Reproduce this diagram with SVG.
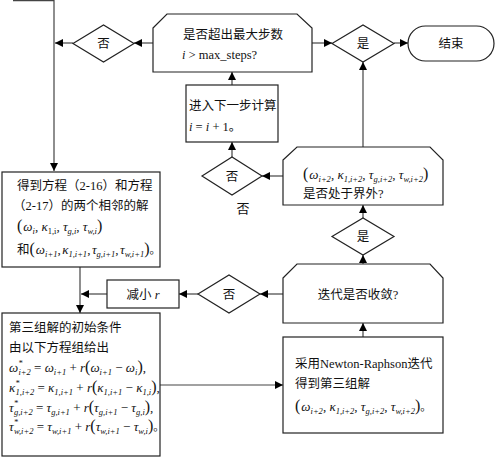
<svg xmlns="http://www.w3.org/2000/svg" width="497" height="457" viewBox="0 0 497 457">
<defs>
<marker id="ah" markerWidth="8" markerHeight="8" refX="8" refY="4" orient="auto" markerUnits="userSpaceOnUse">
<path d="M0,0 L8,4 L0,8 Z" fill="#000"/>
</marker>
<style>
.sh{fill:#fff;stroke:#222;stroke-width:1.2}
.cn{fill:none;stroke:#444;stroke-width:1.2;marker-end:url(#ah)}
.t{font-family:"Liberation Serif","Noto Sans CJK SC",serif;font-size:12.5px;fill:#111}
.c{text-anchor:middle}
.m{font-family:"Liberation Serif","Noto Sans CJK SC",serif;font-size:13px;font-style:italic;fill:#111}
.s{font-size:8.5px}
.u{font-style:normal}
.p{font-style:normal;font-size:16px}
</style>
</defs>
<rect width="497" height="457" fill="#fff"/>

<g id="connectors">
<path class="cn" d="M13,0.6 H54 V171"/>
<path class="cn" d="M153,43 H134"/>
<path class="cn" d="M73,43 H55"/>
<path class="cn" d="M312,43 H332"/>
<path class="cn" d="M394,43 H408"/>
<path class="cn" d="M363,147 V62"/>
<path class="cn" d="M232,85 V72"/>
<path class="cn" d="M232,157 V142"/>
<path class="cn" d="M283,176 H262"/>
<path class="cn" d="M363,218 V205"/>
<path class="cn" d="M363,264 V255"/>
<path class="cn" d="M363,337 V323"/>
<path class="cn" d="M283,294 H260"/>
<path class="cn" d="M198,294 H179"/>
<path class="cn" d="M107,294 H81"/>
<path class="cn" d="M80,267 V313"/>
<path class="cn" d="M160,385 H283"/>
</g>

<g id="n_maxsteps">
<polygon class="sh" points="153,28 167,14 297,14 312,28 312,72 153,72"/>
<text class="t" x="183" y="38.5">是否超出最大步数</text>
<text class="t" x="182" y="59"><tspan font-style="italic">i</tspan> &gt; max_steps?</text>
</g>

<g id="n_no1">
<polygon class="sh" points="73,43.5 103.5,25 134,43.5 103.5,62"/>
<text class="t c" x="103.5" y="48">否</text>
</g>

<g id="n_yes1">
<polygon class="sh" points="332,43.5 363,25 394,43.5 363,62"/>
<text class="t c" x="363" y="48">是</text>
</g>

<g id="n_end">
<rect class="sh" x="408" y="26" width="86" height="35" rx="17.5" ry="17.5"/>
<text class="t c" x="451" y="48">结束</text>
</g>

<g id="n_next">
<rect class="sh" x="186" y="85" width="92" height="57"/>
<text class="t" x="189" y="110">进入下一步计算</text>
<text class="t" x="189" y="131"><tspan font-style="italic">i</tspan> = <tspan font-style="italic">i</tspan> + 1。</text>
</g>

<g id="n_no2">
<polygon class="sh" points="202,176 232,157 262,176 232,195"/>
<text class="t c" x="232" y="181">否</text>
</g>
<text class="t c" x="243" y="213" style="font-size:13px">否</text>

<g id="n_outside">
<polygon class="sh" points="283,160 297,147 430,147 443,160 443,205 283,205"/>
<text class="m" x="303" y="179"><tspan class="p">(</tspan><tspan dx="1">ω</tspan><tspan class="s" dy="3">i+2</tspan><tspan class="u" dy="-3">, </tspan><tspan>κ</tspan><tspan class="s" dy="3">1,i+2</tspan><tspan class="u" dy="-3">, </tspan><tspan>τ</tspan><tspan class="s" dy="3">g,i+2</tspan><tspan class="u" dy="-3">, </tspan><tspan>τ</tspan><tspan class="s" dy="3">w,i+2</tspan><tspan class="p" dy="-3">)</tspan></text>
<text class="t" x="303" y="198">是否处于界外?</text>
</g>

<g id="n_yes2">
<polygon class="sh" points="332,236.5 363,218 394,236.5 363,255"/>
<text class="t c" x="363" y="241">是</text>
</g>

<g id="n_converge">
<polygon class="sh" points="283,278 297,264 430,264 443,278 443,323 283,323"/>
<text class="t c" x="358" y="299">迭代是否收敛?</text>
</g>

<g id="n_no3">
<polygon class="sh" points="198,294 229,275 260,294 229,313"/>
<text class="t c" x="229" y="299">否</text>
</g>

<g id="n_reduce">
<rect class="sh" x="107" y="280" width="72" height="28"/>
<text class="t c" x="143" y="299">减小 <tspan font-style="italic">r</tspan></text>
</g>

<g id="n_solutions">
<rect class="sh" x="2" y="172" width="158" height="95"/>
<text class="t" x="17" y="190">得到方程（2-16）和方程</text>
<text class="t" x="13" y="210">（2-17）的两个相邻的解</text>
<text class="m" x="17" y="231"><tspan class="p">(</tspan><tspan dx="1">ω</tspan><tspan class="s" dy="3">i</tspan><tspan class="u" dy="-3">, </tspan><tspan>κ</tspan><tspan class="s u" dy="3">1,i</tspan><tspan class="u" dy="-3">, </tspan><tspan>τ</tspan><tspan class="s" dy="3">g,i</tspan><tspan class="u" dy="-3">, </tspan><tspan>τ</tspan><tspan class="s" dy="3">w,i</tspan><tspan class="p" dy="-3">)</tspan></text>
<text class="m" x="17" y="254"><tspan class="u" style="font-size:12.5px">和</tspan><tspan class="p">(</tspan><tspan dx="1">ω</tspan><tspan class="s" dy="3">i+1</tspan><tspan class="u" dy="-3">,</tspan><tspan dx="1.5">κ</tspan><tspan class="s" dy="3">1,i+1</tspan><tspan class="u" dy="-3">,</tspan><tspan dx="1.5">τ</tspan><tspan class="s" dy="3">g,i+1</tspan><tspan class="u" dy="-3">,</tspan><tspan dx="1.5">τ</tspan><tspan class="s" dy="3">w,i+1</tspan><tspan class="p" dy="-3">)</tspan><tspan class="u" style="font-size:11px">。</tspan></text>
</g>

<g id="n_initial">
<rect class="sh" x="2" y="313" width="158" height="143"/>
<text class="t" x="9" y="332">第三组解的初始条件</text>
<text class="t" x="9" y="352">由以下方程组给出</text>
<text class="m" x="9" y="372"><tspan>ω</tspan><tspan class="s" dy="-6">*</tspan><tspan class="s" dx="-4" dy="9">i+2</tspan><tspan class="u" dy="-3"> = </tspan><tspan>ω</tspan><tspan class="s" dy="3">i+1</tspan><tspan class="u" dy="-3"> + </tspan><tspan>r</tspan><tspan class="p">(</tspan><tspan>ω</tspan><tspan class="s" dy="3">i+1</tspan><tspan class="u" dy="-3"> − </tspan><tspan>ω</tspan><tspan class="s" dy="3">i</tspan><tspan class="p" dy="-3">)</tspan><tspan class="u">,</tspan></text>
<text class="m" x="9" y="392"><tspan>κ</tspan><tspan class="s" dy="-6">*</tspan><tspan class="s" dx="-4" dy="9">1,i+2</tspan><tspan class="u" dy="-3"> = </tspan><tspan>κ</tspan><tspan class="s" dy="3">1,i+1</tspan><tspan class="u" dy="-3"> + </tspan><tspan>r</tspan><tspan class="p">(</tspan><tspan>κ</tspan><tspan class="s" dy="3">1,i+1</tspan><tspan class="u" dy="-3"> − </tspan><tspan>κ</tspan><tspan class="s" dy="3">1,i</tspan><tspan class="p" dy="-3">)</tspan><tspan class="u">,</tspan></text>
<text class="m" x="9" y="412"><tspan>τ</tspan><tspan class="s" dy="-6">*</tspan><tspan class="s" dx="-4" dy="9">g,i+2</tspan><tspan class="u" dy="-3"> = </tspan><tspan>τ</tspan><tspan class="s" dy="3">g,i+1</tspan><tspan class="u" dy="-3"> + </tspan><tspan>r</tspan><tspan class="p">(</tspan><tspan>τ</tspan><tspan class="s" dy="3">g,i+1</tspan><tspan class="u" dy="-3"> − </tspan><tspan>τ</tspan><tspan class="s" dy="3">g,i</tspan><tspan class="p" dy="-3">)</tspan><tspan class="u">,</tspan></text>
<text class="m" x="9" y="431"><tspan>τ</tspan><tspan class="s" dy="-6">*</tspan><tspan class="s" dx="-4" dy="9">w,i+2</tspan><tspan class="u" dy="-3"> = </tspan><tspan>τ</tspan><tspan class="s" dy="3">w,i+1</tspan><tspan class="u" dy="-3"> + </tspan><tspan>r</tspan><tspan class="p">(</tspan><tspan>τ</tspan><tspan class="s" dy="3">w,i+1</tspan><tspan class="u" dy="-3"> − </tspan><tspan>τ</tspan><tspan class="s" dy="3">w,i</tspan><tspan class="p" dy="-3">)</tspan><tspan class="u" style="font-size:11px">。</tspan></text>
</g>

<g id="n_newton">
<rect class="sh" x="283" y="337" width="160" height="96"/>
<text class="t" x="295" y="368">采用Newton-Raphson迭代</text>
<text class="t" x="295" y="388">得到第三组解</text>
<text class="m" x="295" y="411"><tspan class="p">(</tspan><tspan dx="1">ω</tspan><tspan class="s" dy="3">i+2</tspan><tspan class="u" dy="-3">, </tspan><tspan>κ</tspan><tspan class="s" dy="3">1,i+2</tspan><tspan class="u" dy="-3">, </tspan><tspan>τ</tspan><tspan class="s" dy="3">g,i+2</tspan><tspan class="u" dy="-3">, </tspan><tspan>τ</tspan><tspan class="s" dy="3">w,i+2</tspan><tspan class="p" dy="-3">)</tspan><tspan class="u" style="font-size:11px">。</tspan></text>
</g>
</svg>
